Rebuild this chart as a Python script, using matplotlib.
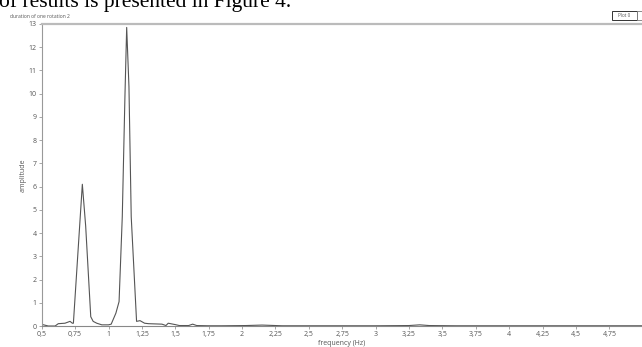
import matplotlib.pyplot as plt
from matplotlib.patches import Rectangle
from matplotlib.ticker import FuncFormatter

# spectrum of the rotation time series
frekans = [0.50, 0.549, 0.60, 0.624, 0.674, 0.712, 0.729, 0.737, 0.804, 0.829,
           0.867, 0.885, 0.912, 0.95, 1.00, 1.02, 1.055, 1.079, 1.103, 1.123,
           1.136, 1.153, 1.17, 1.21, 1.236, 1.27, 1.30, 1.35, 1.40, 1.43,
           1.447, 1.50, 1.53, 1.60, 1.63, 1.66, 1.75, 1.85, 2.03, 2.15,
           2.30, 2.50, 2.75, 3.00, 3.25, 3.33, 3.40, 3.60, 3.90, 4.20,
           4.50, 4.80, 5.00]
genlik = [0.07, 0.0, 0.0, 0.10, 0.12, 0.20, 0.12, 0.12, 6.10, 4.30,
          0.40, 0.20, 0.12, 0.05, 0.05, 0.08, 0.55, 1.05, 4.70, 9.90,
          12.85, 10.30, 4.70, 0.20, 0.23, 0.12, 0.10, 0.09, 0.08, 0.02,
          0.12, 0.06, 0.02, 0.02, 0.08, 0.02, 0.01, 0.01, 0.02, 0.04,
          0.01, 0.01, 0.01, 0.01, 0.02, 0.05, 0.02, 0.01, 0.01, 0.01,
          0.01, 0.01, 0.01]

x_ticks = [0.5, 0.75, 1, 1.25, 1.5, 1.75, 2, 2.25, 2.5, 2.75, 3, 3.25, 3.5,
           3.75, 4, 4.25, 4.5, 4.75]
y_ticks = list(range(0, 14))

fig = plt.figure(figsize=(6.42, 3.47), dpi=100)
ax = fig.add_axes([0.065, 0.0605, 0.935, 0.8705])

ax.plot(frekans, genlik, color="#555555", linewidth=0.8)

ax.set_xlim(0.5, 4.994)
ax.set_ylim(0, 13)
ax.set_xticks(x_ticks)
ax.set_yticks(y_ticks)

# decimal comma on the tick labels
ax.xaxis.set_major_formatter(FuncFormatter(lambda v, p: f"{v:g}".replace(".", ",")))

ax.tick_params(direction="out", length=2.2, width=0.6, color="#999999",
               labelsize=5, labelcolor="#555555", pad=1.5)
for lbl in ax.get_xticklabels() + ax.get_yticklabels():
    lbl.set_family("Open Sans")

ax.spines["right"].set_visible(False)
ax.spines["top"].set_color("#bbbbbb")
ax.spines["top"].set_linewidth(1.6)
ax.spines["left"].set_color("#999999")
ax.spines["left"].set_linewidth(0.8)
ax.spines["bottom"].set_color("#888888")
ax.spines["bottom"].set_linewidth(0.8)

ax.set_xlabel("frequency (Hz)", fontsize=5, color="#555555", family="Open Sans", labelpad=1.5)
ax.set_ylabel("amplitude", fontsize=5, color="#555555", family="Open Sans", labelpad=1)

# chart title and the small "Plot 0" box
fig.text(10 / 642, 1 - 17 / 347, "duration of one rotation 2", fontsize=3.6,
         color="#555555", family="Open Sans", va="center", ha="left")
fig.patches.append(Rectangle((612 / 642, 1 - 20 / 347), 25 / 642, 9 / 347,
                             transform=fig.transFigure, facecolor="white",
                             edgecolor="#333333", linewidth=0.7))
fig.patches.append(Rectangle((637 / 642, 1 - 20 / 347), 8 / 642, 9 / 347,
                             transform=fig.transFigure, facecolor="white",
                             edgecolor="#777777", linewidth=0.6))
fig.text(624.5 / 642, 1 - 15.5 / 347, "Plot 0", fontsize=3.3, color="#555555",
         family="Open Sans", va="center", ha="center")

# line of body text above the chart
fig.text(-0.002, 1 - 7.5 / 347, "of results is presented in Figure 4.",
         fontsize=15.5, family="Liberation Serif", color="black",
         va="baseline", ha="left")

fig.savefig("out.png", dpi=100)
